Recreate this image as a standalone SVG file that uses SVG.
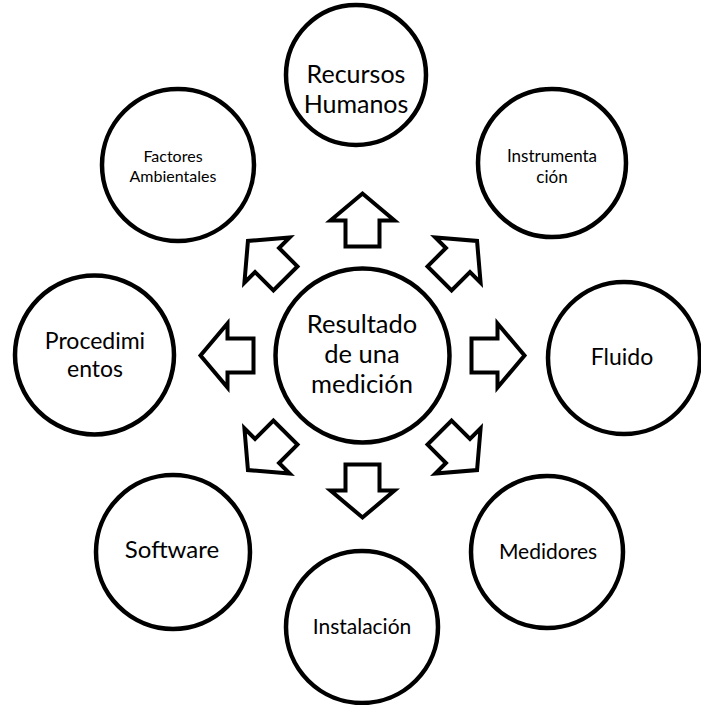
<svg xmlns="http://www.w3.org/2000/svg" width="701" height="705" viewBox="0 0 701 705">
<defs>
<style>
.c{fill:#fff;stroke:#000;stroke-width:4.5}
.a{fill:#fff;stroke:#000;stroke-width:4;stroke-linejoin:miter}
text{font-family:Lato,"Liberation Sans",sans-serif;fill:#000;text-anchor:middle}
</style>
<path id="arr" d="M109,-17 L135,-17 L135,-32 L162,0 L135,32 L135,17 L109,17 Z"/>
</defs>
<rect width="701" height="705" fill="#fff"/>
<g id="connectors">
<use href="#arr" class="a" transform="translate(362.5,355.5) rotate(-90)"/>
<use href="#arr" class="a" transform="translate(362.5,355.5) rotate(-45)"/>
<use href="#arr" class="a" transform="translate(362.5,355.5) rotate(0)"/>
<use href="#arr" class="a" transform="translate(362.5,355.5) rotate(45)"/>
<use href="#arr" class="a" transform="translate(362.5,355.5) rotate(90)"/>
<use href="#arr" class="a" transform="translate(362.5,355.5) rotate(135)"/>
<use href="#arr" class="a" transform="translate(362.5,355.5) rotate(180)"/>
<use href="#arr" class="a" transform="translate(362.5,355.5) rotate(-135)"/>
</g>
<g id="center">
<circle class="c" cx="362.5" cy="355.5" r="87"/>
<text font-size="25.5"><tspan x="362" y="333">Resultado</tspan><tspan x="362" y="363">de una</tspan><tspan x="362" y="393">medición</tspan></text>
</g>
<g id="recursos">
<circle class="c" cx="356" cy="75" r="70"/>
<text font-size="25"><tspan x="356" y="83">Recursos</tspan><tspan x="356" y="113">Humanos</tspan></text>
</g>
<g id="instrumentacion">
<circle class="c" cx="552" cy="163" r="74"/>
<text font-size="17"><tspan x="552" y="162">Instrumenta</tspan><tspan x="552" y="183">ción</tspan></text>
</g>
<g id="factores">
<circle class="c" cx="178" cy="165" r="76"/>
<text font-size="16"><tspan x="173" y="162">Factores</tspan><tspan x="173" y="182">Ambientales</tspan></text>
</g>
<g id="procedimientos">
<circle class="c" cx="94.5" cy="355" r="79.5"/>
<text font-size="23"><tspan x="95" y="349">Procedimi</tspan><tspan x="95" y="377">entos</tspan></text>
</g>
<g id="fluido">
<circle class="c" cx="624" cy="358" r="76"/>
<text font-size="23"><tspan x="622" y="365">Fluido</tspan></text>
</g>
<g id="software">
<circle class="c" cx="173" cy="552" r="77"/>
<text font-size="24"><tspan x="172" y="558">Software</tspan></text>
</g>
<g id="medidores">
<circle class="c" cx="547" cy="552" r="76"/>
<text font-size="21"><tspan x="548" y="559">Medidores</tspan></text>
</g>
<g id="instalacion">
<circle class="c" cx="362" cy="627" r="76"/>
<text font-size="21"><tspan x="362" y="634">Instalación</tspan></text>
</g>
</svg>
